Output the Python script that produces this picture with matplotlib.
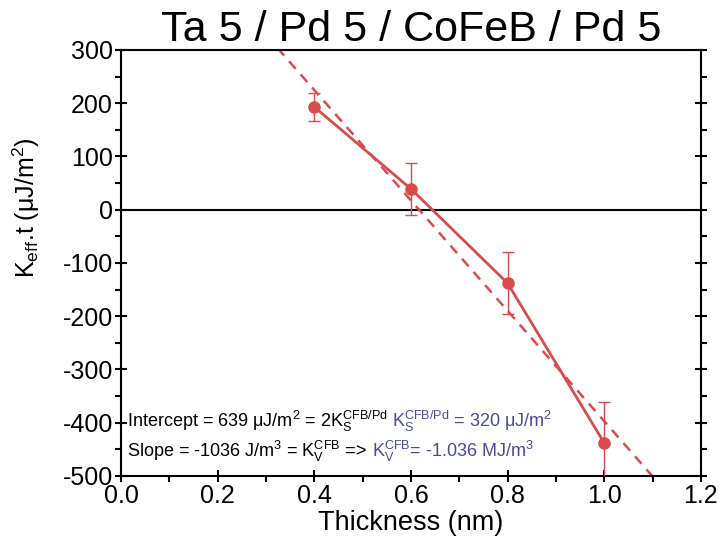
import matplotlib
matplotlib.use("Agg")
import matplotlib.pyplot as plt
import numpy as np

thickness = [0.4, 0.6, 0.8, 1.0]
keff_t = [193, 39, -138, -438]
err = [26, 48, 58, 76]
intercept = 639
slope = -1036
fit_x = [0.3, 1.1]

red = "#d84c4c"
blue = "#4a4a9c"

plt.rcParams['font.family'] = ['Liberation Sans', 'DejaVu Sans']
plt.rcParams['mathtext.fontset'] = 'custom'
plt.rcParams['mathtext.rm'] = 'Liberation Sans'
plt.rcParams['mathtext.it'] = 'Liberation Sans'
plt.rcParams['mathtext.bf'] = 'Liberation Sans:bold'
plt.rcParams['mathtext.default'] = 'rm'
plt.rcParams['axes.unicode_minus'] = False

fig = plt.figure(figsize=(7.21, 5.49), dpi=100)
ax = fig.add_axes([0.168, 0.133, 0.804, 0.776])

ax.axhline(0, color='black', lw=1.5, zorder=1)
fx = np.array(fit_x)
ax.plot(fx, intercept + slope * fx, color=red, lw=1.8, ls=(0, (4, 3)), zorder=2)
ax.plot(thickness, keff_t, color=red, lw=2, zorder=3)
ax.errorbar(thickness, keff_t, yerr=err, fmt='o', color=red, ms=8,
            elinewidth=1, capsize=4, capthick=1, zorder=4)

ax.set_xlim(0.0, 1.2)
ax.set_ylim(-500, 300)
ax.set_xticks(np.arange(0, 1.21, 0.2))
ax.set_xticklabels(["0.0", "0.2", "0.4", "0.6", "0.8", "1.0", "1.2"])
ax.set_yticks(np.arange(-500, 301, 100))
ax.set_xticks(np.arange(0.1, 1.2, 0.2), minor=True)
ax.set_yticks(np.arange(-450, 300, 100), minor=True)
ax.tick_params(which='major', direction='inout', length=8, width=1.5, labelsize=18,
               right=True, top=False, pad=2)
ax.tick_params(which='minor', direction='out', length=4, width=1.5,
               right=True, top=False)
for s in ax.spines.values():
    s.set_linewidth(1.5)

ax.set_xlabel("Thickness (nm)", fontsize=19.5, labelpad=1)
ax.set_ylabel(r"K$_{eff}$.t ($\mu$J/m$^2$)", fontsize=18)
ax.yaxis.set_label_coords(-0.137, 0.63)
ax.set_title("Ta 5 / Pd 5 / CoFeB / Pd 5", fontsize=31, pad=2)

fs = 13
t1 = ax.text(0.012, -408, r"Intercept = 639 $\mu$J/m$^2$ = 2K$_S^{CFB/Pd}$", fontsize=fs, color='black')
ax.annotate(r"K$_S^{CFB/Pd}$ = 320 $\mu$J/m$^2$", xy=(1, 0), xycoords=t1,
            xytext=(3, 0), textcoords='offset points', fontsize=fs, color=blue,
            va='bottom', ha='left')
t2 = ax.text(0.012, -464, r"Slope = -1036 J/m$^3$ = K$_V^{CFB}$ =>", fontsize=fs, color='black')
ax.annotate(r"K$_V^{CFB}$= -1.036 MJ/m$^3$", xy=(1, 0), xycoords=t2,
            xytext=(4, 0), textcoords='offset points', fontsize=fs, color=blue,
            va='bottom', ha='left')

fig.savefig("out.png", dpi=100)
